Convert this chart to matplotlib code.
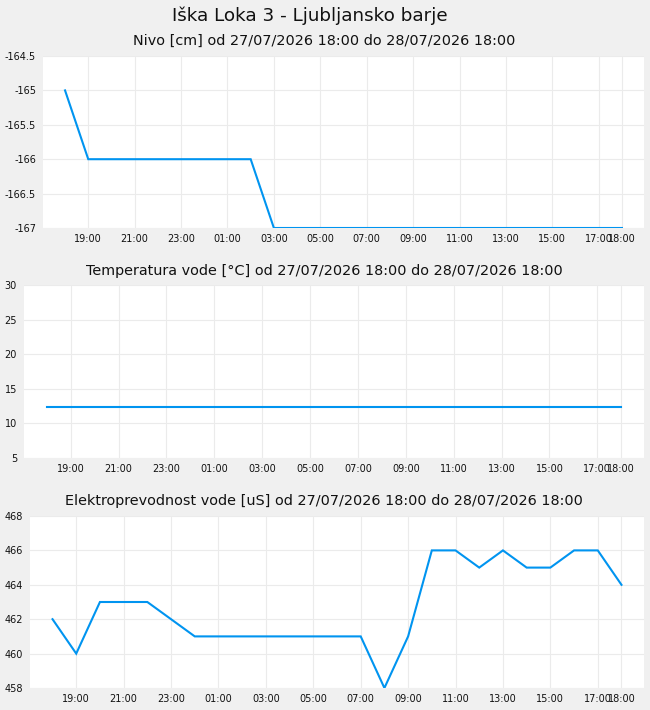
import matplotlib
matplotlib.use("Agg")
import matplotlib.pyplot as plt
import matplotlib.dates as mdates
import pandas as pd

# ---- data ----
times = pd.date_range("2026-07-27 18:00", "2026-07-28 18:00", freq="h")
nivo = [-165, -166, -166, -166, -166, -166, -166, -166, -166, -167, -167, -167,
        -167, -167, -167, -167, -167, -167, -167, -167, -167, -167, -167, -167, -167]
temperatura = [12.3] * 25
prevodnost = [462, 460, 463, 463, 463, 462, 461, 461, 461, 461, 461, 461,
              461, 461, 458, 461, 466, 466, 465, 466, 465, 465, 466, 466, 464]

tick_times = ["2026-07-27 19:00", "2026-07-27 21:00", "2026-07-27 23:00",
              "2026-07-28 01:00", "2026-07-28 03:00", "2026-07-28 05:00",
              "2026-07-28 07:00", "2026-07-28 09:00", "2026-07-28 11:00",
              "2026-07-28 13:00", "2026-07-28 15:00", "2026-07-28 17:00",
              "2026-07-28 18:00"]
tick_labels = ["19:00", "21:00", "23:00", "01:00", "03:00", "05:00", "07:00",
               "09:00", "11:00", "13:00", "15:00", "17:00", "18:00"]

main_title = "Iška Loka 3 - Ljubljansko barje"
titles = ["Nivo [cm] od 27/07/2026 18:00 do 28/07/2026 18:00",
          "Temperatura vode [°C] od 27/07/2026 18:00 do 28/07/2026 18:00",
          "Elektroprevodnost vode [uS] od 27/07/2026 18:00 do 28/07/2026 18:00"]
ylims = [(-167, -164.5), (5, 30), (458, 468)]
yticks = [[-167, -166.5, -166, -165.5, -165, -164.5],
          [5, 10, 15, 20, 25, 30],
          [458, 460, 462, 464, 466, 468]]
series = [nivo, temperatura, prevodnost]

# ---- layout (pixels) ----
W, H = 650, 710
boxes = [(43, 644, 56, 228), (24, 644, 285, 458), (30, 644, 516, 688)]
title_baselines = [45, 275, 505.5]

BG = "#f0f0f0"
LINE = "#0094f0"
GRID = "#ebebeb"

fig = plt.figure(figsize=(W / 100, H / 100), dpi=100, facecolor=BG)
fig.text(310 / W, 1 - 21 / H, main_title, ha="center", va="baseline",
         fontsize=13.2, color="#111111")

t0 = mdates.date2num(times[0])
t1 = mdates.date2num(times[-1])
pad = 0.95 / 24
tick_pos = [mdates.date2num(pd.Timestamp(t)) for t in tick_times]

for i, (l, r, t, b) in enumerate(boxes):
    ax = fig.add_axes([l / W, 1 - b / H, (r - l) / W, (b - t) / H])
    ax.set_facecolor("white")
    for s in ax.spines.values():
        s.set_visible(False)
    ax.plot(times, series[i], color=LINE, lw=1.5, solid_joinstyle="miter")
    ax.set_xlim(t0 - pad, t1 + pad)
    ax.set_ylim(*ylims[i])
    ax.set_yticks(yticks[i])
    ax.set_yticklabels(["%g" % v for v in yticks[i]])
    ax.set_xticks(tick_pos)
    ax.set_xticklabels(tick_labels)
    ax.tick_params(axis="both", length=0, labelsize=7, colors="#111111")
    ax.tick_params(axis="x", pad=4.5)
    ax.tick_params(axis="y", pad=5)
    ax.grid(True, color=GRID, lw=0.8)
    ax.set_axisbelow(True)
    fig.text(324 / W, 1 - title_baselines[i] / H, titles[i], ha="center",
             va="baseline", fontsize=10.4, color="#111111")

fig.savefig("out.png", dpi=100, facecolor=BG)
